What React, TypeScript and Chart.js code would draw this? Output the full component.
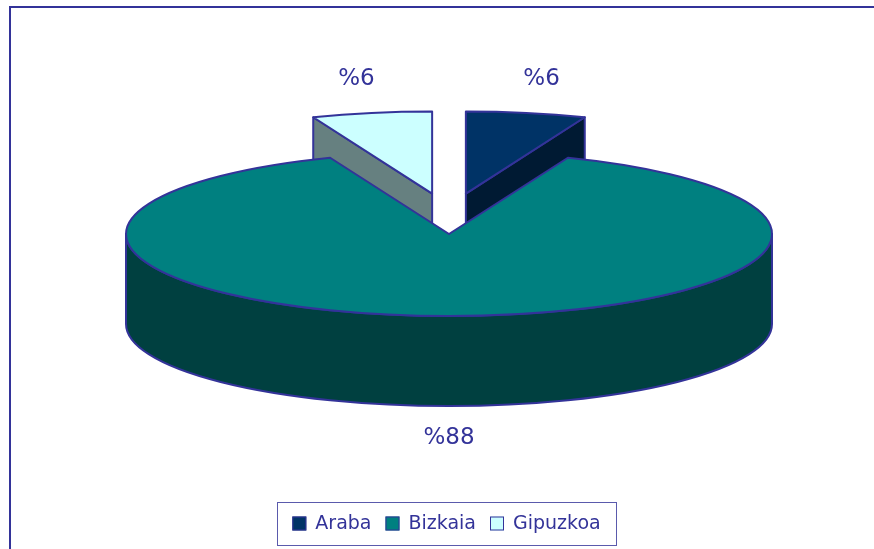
import React, { useEffect, useRef } from "react";
import { Chart, registerables } from "chart.js";

Chart.register(...registerables);

// ---- data ----
const categories = ["Araba", "Bizkaia", "Gipuzkoa"];
const percentages = [6, 88, 6];
const valueLabels = ["%6", "%88", "%6"];

// ---- styles ----
const topColors = ["#003366", "#008080", "#CCFFFF"];
const sideColors = ["#001A33", "#004040", "#668080"];
const OUTLINE = "#333399";
const FONT = "'DejaVu Sans', 'Noto Sans', sans-serif";
const STYLE = {
  squash: 0.254,
  depth: 90,
  explode: [90, 0, 90],
  lift: [18, 0, 18],
  labelRX: 1.25,
  labelRY: 1.42,
};

const pie3d = {
  id: "pie3d",
  beforeDatasetsDraw(chart: any) {
    const ctx = chart.ctx as CanvasRenderingContext2D;
    const area = chart.chartArea;
    const meta = chart.getDatasetMeta(0);
    const rx = (area.right - area.left) / 2;
    const ry = rx * STYLE.squash;
    const d = STYLE.depth;
    const slices = meta.data.map((arc: any, i: number) => {
      const p = arc.getProps(["startAngle", "endAngle", "x", "y"], true);
      const mid = (p.startAngle + p.endAngle) / 2;
      const ex = STYLE.explode[i];
      const cx = p.x + ex * Math.cos(mid);
      const cy = p.y + ex * STYLE.squash * Math.sin(mid) - STYLE.lift[i];
      return { i, s: p.startAngle, e: p.endAngle, mid, cx, cy };
    });
    const order = [...slices].sort((a, b) => Math.sin(a.mid) - Math.sin(b.mid));
    ctx.save();
    ctx.lineJoin = "round";
    ctx.lineWidth = 2;
    ctx.strokeStyle = OUTLINE;
    for (const sl of order) {
      const { cx, cy, s, e, i } = sl;
      ctx.fillStyle = sideColors[i];
      const face = (t: number) => {
        const px = cx + rx * Math.cos(t);
        const py = cy + ry * Math.sin(t);
        ctx.beginPath();
        ctx.moveTo(cx, cy);
        ctx.lineTo(px, py);
        ctx.lineTo(px, py + d);
        ctx.lineTo(cx, cy + d);
        ctx.closePath();
        ctx.fill();
        ctx.stroke();
      };
      if (-Math.cos(s) > 1e-6) face(s);
      if (Math.cos(e) > 1e-6) face(e);
      for (let k = -1; k <= 1; k++) {
        const a = Math.max(s, 2 * Math.PI * k);
        const b = Math.min(e, 2 * Math.PI * k + Math.PI);
        if (b > a) {
          ctx.beginPath();
          ctx.ellipse(cx, cy, rx, ry, 0, a, b);
          ctx.lineTo(cx + rx * Math.cos(b), cy + ry * Math.sin(b) + d);
          ctx.ellipse(cx, cy + d, rx, ry, 0, b, a, true);
          ctx.closePath();
          ctx.fill();
          ctx.stroke();
        }
      }
      ctx.fillStyle = topColors[i];
      ctx.beginPath();
      ctx.moveTo(cx, cy);
      ctx.ellipse(cx, cy, rx, ry, 0, s, e);
      ctx.closePath();
      ctx.fill();
      ctx.stroke();
    }
    // value labels
    ctx.fillStyle = OUTLINE;
    ctx.font = `23px ${FONT}`;
    ctx.textAlign = "center";
    ctx.textBaseline = "middle";
    for (const sl of slices) {
      const sn = Math.sin(sl.mid);
      const lx = sl.cx + rx * STYLE.labelRX * Math.cos(sl.mid);
      const ly = sl.cy + ry * STYLE.labelRY * sn + (sn > 0 ? d - 2 : 0);
      ctx.fillText(valueLabels[sl.i], lx, ly);
    }
    ctx.restore();
    return false;
  },
  afterDraw(chart: any) {
    const ctx = chart.ctx as CanvasRenderingContext2D;
    ctx.save();
    // outer frame
    ctx.strokeStyle = OUTLINE;
    ctx.lineWidth = 2;
    ctx.beginPath();
    ctx.moveTo(10, 700);
    ctx.lineTo(10, 7);
    ctx.lineTo(1000, 7);
    ctx.stroke();
    // legend
    const boxL = 277, boxT = 502, boxW = 339, boxH = 43;
    ctx.strokeStyle = "#5a5aac";
    ctx.lineWidth = 1;
    ctx.strokeRect(boxL + 0.5, boxT + 0.5, boxW, boxH);
    ctx.font = `19px ${FONT}`;
    ctx.textBaseline = "middle";
    ctx.textAlign = "left";
    const sq = 14, gapSq = 9, gapItem = 14;
    const widths = categories.map((c) => ctx.measureText(c).width);
    const total =
      widths.reduce((a, b) => a + b, 0) + categories.length * (sq + gapSq) + (categories.length - 1) * gapItem;
    let x = boxL + (boxW - total) / 2;
    const cy = boxT + boxH / 2;
    categories.forEach((c, i) => {
      ctx.fillStyle = topColors[i];
      ctx.fillRect(x, cy - sq / 2, sq, sq);
      ctx.strokeStyle = OUTLINE;
      ctx.lineWidth = 1;
      ctx.strokeRect(x + 0.5, cy - sq / 2 + 0.5, sq - 1, sq - 1);
      x += sq + gapSq;
      ctx.fillStyle = OUTLINE;
      ctx.fillText(c, x, cy + 1);
      x += widths[i] + gapItem;
    });
    ctx.restore();
  },
};

export default function App() {
  const ref = useRef<HTMLCanvasElement | null>(null);
  useEffect(() => {
    if (!ref.current) return;
    const chart = new Chart(ref.current, {
      type: "pie",
      data: {
        labels: categories,
        datasets: [
          {
            data: percentages,
            backgroundColor: topColors,
            borderColor: OUTLINE,
          },
        ],
      },
      options: {
        responsive: true,
        maintainAspectRatio: false,
        animation: false,
        events: [],
        layout: { padding: { left: 126, right: 102, top: 0, bottom: 81 } },
        plugins: {
          legend: { display: false },
          tooltip: { enabled: false },
        },
      },
      plugins: [pie3d as any],
    });
    return () => chart.destroy();
  }, []);
  return (
    <div style={{ position: "fixed", left: 0, top: 0, width: 874, height: 549, background: "#ffffff" }}>
      <canvas ref={ref} />
    </div>
  );
}
